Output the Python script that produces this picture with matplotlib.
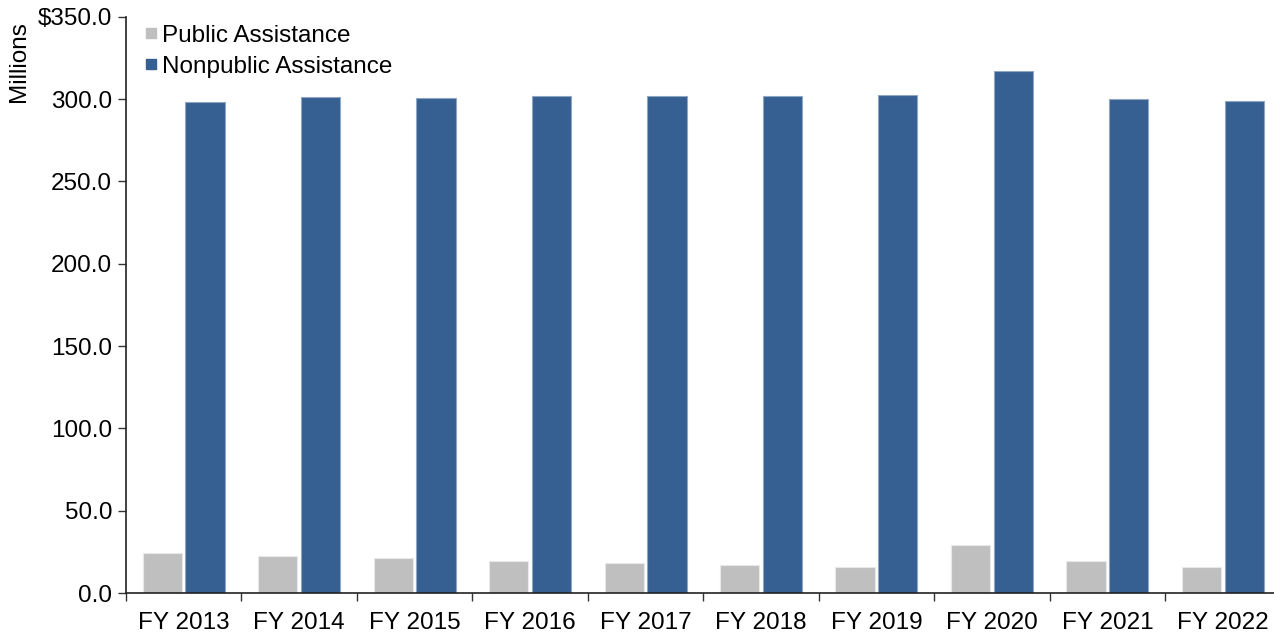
import numpy as np
import matplotlib
matplotlib.use("Agg")
import matplotlib.pyplot as plt
from matplotlib.lines import Line2D

plt.rcParams['font.family'] = ['Liberation Sans', 'DejaVu Sans']

years = ["FY 2013", "FY 2014", "FY 2015", "FY 2016", "FY 2017",
         "FY 2018", "FY 2019", "FY 2020", "FY 2021", "FY 2022"]
public_assistance = [24.1, 22.5, 21.1, 19.2, 18.4, 17.2, 15.8, 29.0, 19.4, 15.6]
nonpublic_assistance = [298.2, 301.0, 300.4, 301.8, 302.0, 301.6, 302.2, 317.0, 299.8, 298.6]
y_ticks = [0, 50, 100, 150, 200, 250, 300, 350]

public_color = "#BFBFBF"
nonpublic_color = "#366092"
fs = 17.5

fig = plt.figure(figsize=(12.74, 6.34), dpi=100)
ax = fig.add_axes([126 / 1274, 1 - 593 / 634, (1280.5 - 126) / 1274, (593 - 16.7) / 634])

x = np.arange(len(years))
width = 0.34
offset = 0.185
ax.bar(x - offset, public_assistance, width, color=public_color,
       edgecolor="#E8E8E8", linewidth=0.8, zorder=2)
ax.bar(x + offset, nonpublic_assistance, width, color=nonpublic_color,
       edgecolor="#8FA6C4", linewidth=0.8, zorder=2)

ax.set_xlim(-0.5, len(years) - 0.5)
ax.set_ylim(0, 350)

# category boundaries as ticks, labels centred in each category
ax.set_xticks(np.arange(len(years) + 1) - 0.5)
ax.set_xticklabels([])
ax.set_xticks(x, minor=True)
ax.set_xticklabels(years, minor=True, fontsize=fs)
ax.tick_params(axis='x', which='major', length=6, width=1, direction='out', color='#333333')
ax.tick_params(axis='x', which='minor', length=0, pad=14)

ax.set_yticks(y_ticks)
ax.set_yticklabels(["$350.0" if v == 350 else f"{v:.1f}" for v in y_ticks], fontsize=fs)
ax.tick_params(axis='y', length=6, width=1, direction='out', color='#333333', pad=4)

for side in ['top', 'right']:
    ax.spines[side].set_visible(False)
for side in ['left', 'bottom']:
    ax.spines[side].set_color('#222222')
    ax.spines[side].set_linewidth(1.2)

fig.text(19 / 1274, 1 - 62 / 634, "Millions", rotation=90, fontsize=fs,
         ha='center', va='center')

handles = [
    Line2D([], [], marker='s', linestyle='none', markersize=7,
           markerfacecolor=public_color, markeredgecolor=public_color),
    Line2D([], [], marker='s', linestyle='none', markersize=7,
           markerfacecolor=nonpublic_color, markeredgecolor=nonpublic_color),
]
ax.legend(handles, ["Public Assistance", "Nonpublic Assistance"],
          loc='upper left', bbox_to_anchor=(0.0015, 1.016), frameon=False,
          fontsize=fs, handlelength=0.55, handletextpad=0.17, labelspacing=0.38,
          borderaxespad=0.3)

fig.savefig("out.png", dpi=100)
